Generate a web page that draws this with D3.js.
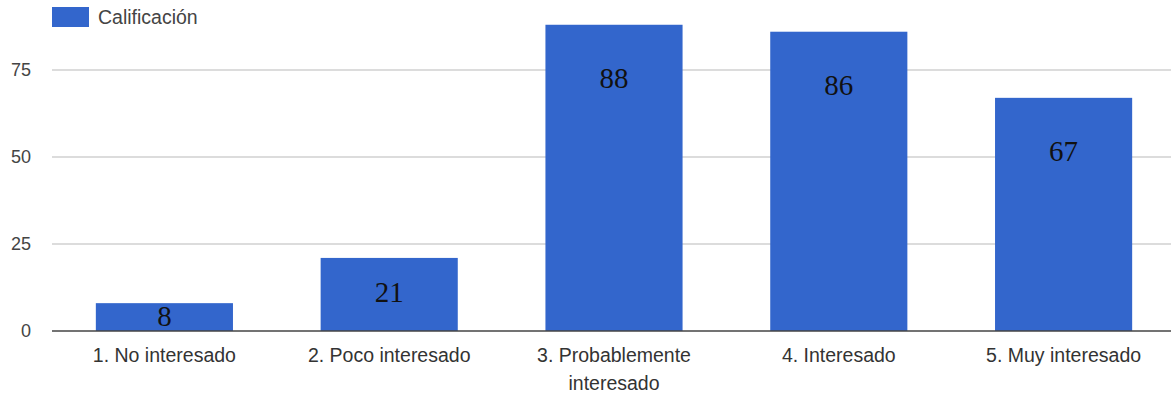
<!DOCTYPE html>
<html>
<head>
<meta charset="utf-8">
<script src="https://cdn.jsdelivr.net/npm/d3@7"></script>
<style>
  html, body { margin: 0; padding: 0; background: #fff; }
  svg { display: block; }
</style>
</head>
<body>
<div id="chart"></div>
<script>
const categories = [
  "1. No interesado",
  "2. Poco interesado",
  "3. Probablemente interesado",
  "4. Interesado",
  "5. Muy interesado"
];
const values = [8, 21, 88, 86, 67];
const seriesName = "Calificación";
const yTicks = [0, 25, 50, 75];

const width = 1171, height = 396;
const plot = { left: 52, right: 1176, top: 0, bottom: 331 };

const svg = d3.select("#chart").append("svg")
  .attr("width", width)
  .attr("height", height)
  .style("font-family", "Arial, 'Liberation Sans', sans-serif");

const x = d3.scaleBand()
  .domain(categories)
  .range([plot.left, plot.right])
  .paddingInner(0.39)
  .paddingOuter(0.195);

const y = d3.scaleLinear()
  .domain([0, 95.1])
  .range([plot.bottom, plot.bottom - 95.1 * 3.48]);

// gridlines
svg.append("g")
  .selectAll("line")
  .data(yTicks.filter(d => d > 0))
  .join("line")
  .attr("x1", plot.left)
  .attr("x2", width)
  .attr("y1", d => y(d))
  .attr("y2", d => y(d))
  .attr("stroke", "#dcdcdc")
  .attr("stroke-width", 2);

// y tick labels
svg.append("g")
  .selectAll("text")
  .data(yTicks)
  .join("text")
  .attr("x", 31)
  .attr("y", d => y(d))
  .attr("dy", "0.36em")
  .attr("text-anchor", "end")
  .attr("fill", "#444")
  .attr("font-size", 18)
  .text(d => d);

// bars
svg.append("g")
  .selectAll("rect")
  .data(values)
  .join("rect")
  .attr("x", (d, i) => x(categories[i]))
  .attr("width", x.bandwidth())
  .attr("y", d => y(d))
  .attr("height", d => y(0) - y(d))
  .attr("fill", "#3366cc");

// baseline
svg.append("line")
  .attr("x1", plot.left)
  .attr("x2", width)
  .attr("y1", y(0))
  .attr("y2", y(0))
  .attr("stroke", "#444")
  .attr("stroke-width", 1.5);

// value labels inside bars
svg.append("g")
  .selectAll("text")
  .data(values)
  .join("text")
  .attr("x", (d, i) => x(categories[i]) + x.bandwidth() / 2)
  .attr("y", d => y(d) + Math.min(53, (y(0) - y(d)) * 0.47))
  .attr("dy", "0.35em")
  .attr("text-anchor", "middle")
  .attr("font-family", "'Liberation Serif', 'Times New Roman', serif")
  .attr("font-size", 29)
  .attr("fill", "#111")
  .text(d => d);

// category labels (wrapped)
const wrapWidth = 180;
svg.append("g")
  .selectAll("text")
  .data(categories)
  .join("text")
  .attr("text-anchor", "middle")
  .attr("fill", "#333")
  .attr("font-size", 19.5)
  .each(function(d) {
    const t = d3.select(this);
    const cx = x(d) + x.bandwidth() / 2;
    const words = d.split(" ");
    const lines = [];
    let line = [];
    const measure = t.append("tspan");
    words.forEach(w => {
      line.push(w);
      measure.text(line.join(" "));
      if (measure.node().getComputedTextLength() > wrapWidth && line.length > 1) {
        line.pop();
        lines.push(line.join(" "));
        line = [w];
      }
    });
    lines.push(line.join(" "));
    measure.remove();
    lines.forEach((l, i) => {
      t.append("tspan")
        .attr("x", cx)
        .attr("y", 362 + i * 28)
        .text(l);
    });
  });

// legend
const legend = svg.append("g");
legend.append("rect")
  .attr("x", 52).attr("y", 7)
  .attr("width", 37).attr("height", 20)
  .attr("fill", "#3366cc");
legend.append("text")
  .attr("x", 98).attr("y", 17)
  .attr("dy", "0.36em")
  .attr("fill", "#444")
  .attr("font-size", 19.5)
  .text(seriesName);
</script>
</body>
</html>
